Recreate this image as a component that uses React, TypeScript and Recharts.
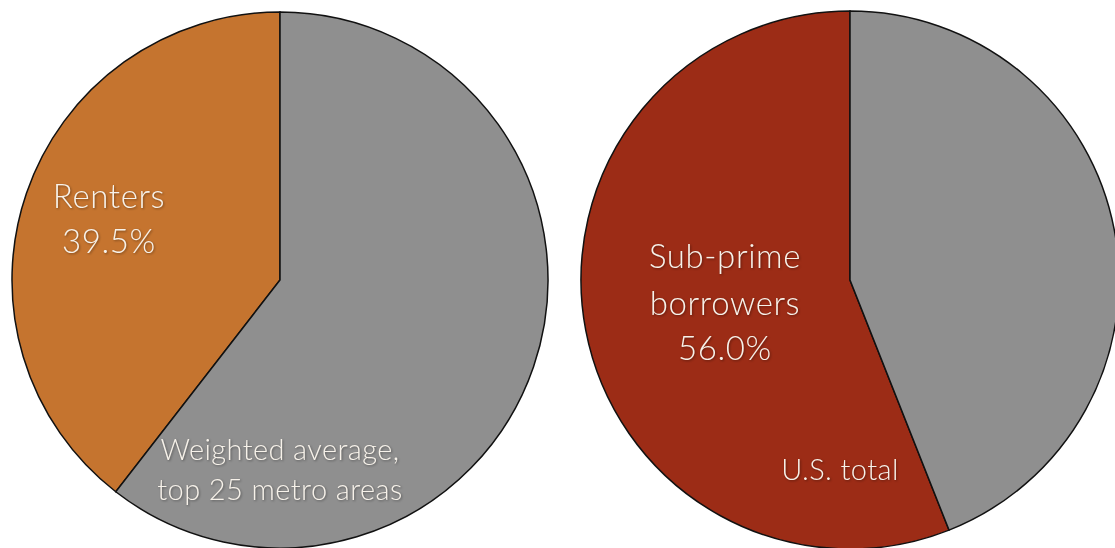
import { Cell, Pie, PieChart } from 'recharts';

const RENTER_SHARE = [39.5, 60.5];
const RENTER_LABELS = ['Renters', 'Weighted average'];
const SUBPRIME_SHARE = [56.0, 44.0];
const SUBPRIME_LABELS = ['Sub-prime borrowers', 'U.S. total'];

const LEFT_COLORS = ['#C5742F', '#8F8F8F'];
const RIGHT_COLORS = ['#9C2C16', '#8F8F8F'];
const TEXT_COLOR = '#F7F2EA';
const FONT = 'Lato, "Open Sans", sans-serif';

// text lines for each slice, offset from the pie centre
const LEFT_TEXT = [
  { dx: -171, lines: [{ t: 'Renters', dy: -72 }, { t: '39.5%', dy: -27 }], size: 33, ls: 0.6 },
  {
    dx: 0,
    lines: [
      { t: 'Weighted average,', dy: 180 },
      { t: 'top 25 metro areas', dy: 220 },
    ],
    size: 29,
    ls: 0.4,
  },
];
const RIGHT_TEXT = [
  {
    dx: -125,
    lines: [
      { t: 'Sub-prime', dy: -12 },
      { t: 'borrowers', dy: 35 },
      { t: '56.0%', dy: 80 },
    ],
    size: 33,
    ls: 0.6,
  },
  { dx: -10, lines: [{ t: 'U.S. total', dy: 200 }], size: 29, ls: 0.4 },
];

type TextSpec = (typeof LEFT_TEXT)[number];

function sliceText(specs: TextSpec[]) {
  return (props: any) => {
    const spec = specs[props.index];
    if (!spec) return null;
    return (
      <g key={`lbl-${props.index}`}>
        {spec.lines.map((l) => (
          <text
            key={l.t}
            x={props.cx + spec.dx}
            y={props.cy + l.dy}
            textAnchor="middle"
            fill={TEXT_COLOR}
            fontFamily={FONT}
            fontWeight={300}
            fontSize={spec.size}
            letterSpacing={spec.ls}
            style={{ filter: 'drop-shadow(1px 1px 1px rgba(0,0,0,0.35))' }}
          >
            {l.t}
          </text>
        ))}
      </g>
    );
  };
}

export default function App() {
  const left = RENTER_SHARE.map((v, i) => ({ name: RENTER_LABELS[i], value: v }));
  const right = SUBPRIME_SHARE.map((v, i) => ({ name: SUBPRIME_LABELS[i], value: v }));

  return (
    <div style={{ position: 'absolute', left: 0, top: 0, background: '#fff' }}>
      <PieChart width={1115} height={548} margin={{ top: 0, right: 0, bottom: 0, left: 0 }}>
        <Pie
          data={left}
          dataKey="value"
          cx={280}
          cy={280}
          outerRadius={268}
          startAngle={90}
          endAngle={450}
          stroke="#111"
          strokeWidth={1.5}
          label={sliceText(LEFT_TEXT)}
          labelLine={false}
          isAnimationActive={false}
        >
          {left.map((d, i) => (
            <Cell key={d.name} fill={LEFT_COLORS[i]} />
          ))}
        </Pie>
        <Pie
          data={right}
          dataKey="value"
          cx={850}
          cy={280}
          outerRadius={269}
          startAngle={90}
          endAngle={450}
          stroke="#111"
          strokeWidth={1.5}
          label={sliceText(RIGHT_TEXT)}
          labelLine={false}
          isAnimationActive={false}
        >
          {right.map((d, i) => (
            <Cell key={d.name} fill={RIGHT_COLORS[i]} />
          ))}
        </Pie>
      </PieChart>
    </div>
  );
}
